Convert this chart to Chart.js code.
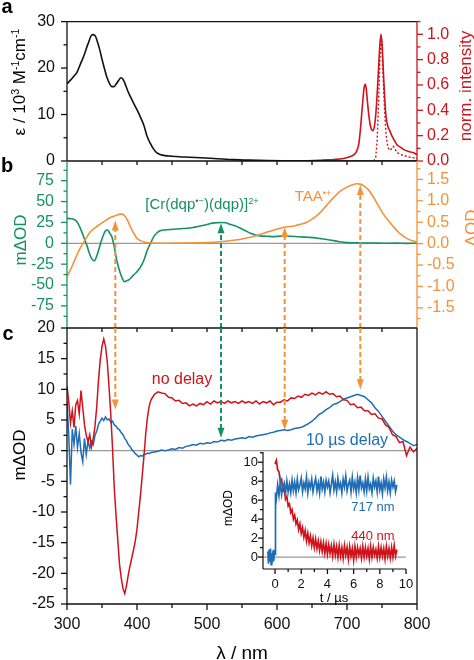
<!DOCTYPE html>
<html>
<head>
<meta charset="utf-8">
<script src="https://cdn.jsdelivr.net/npm/chart.js@4.4.1/dist/chart.umd.min.js"></script>
<style>
  body { margin: 0; background: #fff; }
  #fig { position: relative; width: 474px; height: 660px; overflow: hidden; font-family: "Liberation Sans", Arial, sans-serif; }
  #fig canvas { position: absolute; left: 0; top: 0; }
  .lbl { position: absolute; white-space: nowrap; line-height: 1; transform: translate(-50%, -50%); }
  .rot { transform: translate(-50%, -50%) rotate(-90deg); }
  .lbl sup { font-size: 62%; vertical-align: 0; position: relative; top: -0.55em; }
  .pl { font-weight: bold; font-size: 20px; }
</style>
</head>
<body>
<div id="fig">
  <canvas id="cA" width="474" height="660"></canvas>
  <canvas id="cB" width="474" height="660"></canvas>
  <canvas id="cC" width="474" height="660"></canvas>
  <canvas id="cI" width="474" height="660"></canvas>

  <div class="lbl pl" style="left:7px;top:6px">a</div>
  <div class="lbl pl" style="left:7px;top:165px">b</div>
  <div class="lbl pl" style="left:8px;top:333px">c</div>

  <div class="lbl rot" style="left:19px;top:82px;font-size:17px">ε / 10<sup>3</sup> M<sup>-1</sup>cm<sup>-1</sup></div>
  <div class="lbl rot" style="left:465px;top:86px;font-size:17px;color:#d0121b">norm. intensity</div>
  <div class="lbl rot" style="left:20px;top:240px;font-size:17px;color:#169163">mΔOD</div>
  <div class="lbl rot" style="left:471px;top:228px;font-size:17px;color:#f39239">ΔOD</div>
  <div class="lbl rot" style="left:19px;top:455px;font-size:17px">mΔOD</div>
  <div class="lbl" style="left:242px;top:652px;font-size:19px">λ / nm</div>

  <div class="lbl" style="left:202px;top:204px;font-size:15px;color:#169163">[Cr(dqp<sup>•−</sup>)(dqp)]<sup>2+</sup></div>
  <div class="lbl" style="left:313px;top:196px;font-size:15px;color:#f39239">TAA<sup>•+</sup></div>
  <div class="lbl" style="left:182px;top:379px;font-size:16px;color:#d0121b">no delay</div>
  <div class="lbl" style="left:347px;top:440px;font-size:16px;color:#1f6db5">10 µs delay</div>
  <div class="lbl" style="left:373px;top:506px;font-size:13px;color:#1f6db5">717 nm</div>
  <div class="lbl" style="left:373px;top:535px;font-size:13px;color:#d0121b">440 nm</div>
  <div class="lbl rot" style="left:228px;top:508px;font-size:12px">mΔOD</div>
  <div class="lbl" style="left:334px;top:597px;font-size:13px">t / µs</div>
</div>
<script>
// ---- panel a: absorption (black) and emission (red) ----
const absNm  = [300, 305, 310, 314, 319, 324, 330, 336, 340, 343, 347, 350, 354, 357, 361, 364, 367, 370, 374, 377, 380, 383, 387, 390, 394, 398, 402, 405, 410, 414, 419, 424, 428, 433, 440, 448, 460, 475, 490, 510, 538, 560, 586, 610, 640, 700, 800];
const absEps = [16.6, 17.4, 18.3, 19.0, 20.8, 22.6, 25.2, 27.2, 27.0, 25.9, 23.8, 21.9, 19.6, 18.0, 16.6, 16.0, 16.0, 16.5, 17.4, 17.9, 17.6, 16.6, 15.0, 14.0, 12.8, 11.6, 10.4, 9.4, 7.6, 5.5, 3.8, 2.5, 1.8, 1.4, 1.15, 1.05, 0.92, 0.82, 0.7, 0.55, 0.3, 0.18, 0.08, 0.04, 0.02, 0.0, 0.0];
const emNm  = [640, 652, 665, 681, 695, 705, 710, 714, 717, 719, 721, 723, 724.5, 726, 727.5, 729, 731, 733, 735, 737, 739, 741, 743, 745, 747, 748.6, 750, 752, 754, 756, 758.6, 761, 764, 768, 771, 776, 781, 788, 795, 800];
const emInt = [0, 0.003, 0.008, 0.012, 0.02, 0.035, 0.05, 0.08, 0.14, 0.24, 0.37, 0.5, 0.58, 0.605, 0.57, 0.48, 0.37, 0.29, 0.25, 0.24, 0.27, 0.36, 0.52, 0.72, 0.92, 1.0, 0.93, 0.7, 0.48, 0.34, 0.27, 0.24, 0.2, 0.16, 0.13, 0.11, 0.09, 0.075, 0.065, 0.05];
const dotNm  = [738, 741, 743, 745, 747, 748.6, 750, 752, 754, 756, 758, 760, 762, 764, 766, 768, 771, 775, 780, 790, 800];
const dotInt = [0, 0.03, 0.15, 0.45, 0.8, 0.98, 0.9, 0.62, 0.36, 0.2, 0.12, 0.09, 0.085, 0.1, 0.115, 0.1, 0.07, 0.055, 0.045, 0.03, 0.02];

// ---- panel b: spectroelectrochemistry ----
const greenNm = [300, 305, 310, 314, 318, 321, 325, 329, 332, 335, 339, 343, 348, 352, 355, 358, 361, 364, 367, 371, 375, 379, 382, 385, 388, 392, 395, 399, 402, 406, 410, 414, 417, 421, 424, 428, 433, 440, 452, 462, 471, 480, 490, 500, 510, 520, 527, 533, 540, 548, 555, 562, 569, 576, 585, 595, 605, 619, 630, 643, 652, 662, 671, 681, 690, 700, 710, 719, 735, 752, 770, 785, 800];
const greenV  = [30, 29.5, 28.5, 26, 20, 14, 5, -4, -12, -18, -21, -14, 0, 10, 15, 16, 12, 8, -2, -20, -33, -42, -46, -45, -44, -41, -38, -35, -32, -27, -20, -10, -4, 3, 8, 12, 15, 16, 16.8, 17.5, 18, 19, 20.7, 22.5, 24.5, 25, 24.5, 22.7, 21, 18, 15, 12, 10, 8.8, 8.5, 8, 8.6, 8.4, 7.8, 7.2, 6.8, 5.6, 4.5, 3.2, 1.8, 0.8, 0.6, 0.4, 0.3, 0.0, 0.2, -0.1, 0.0];
const orNm = [300, 307, 314, 319, 324, 329, 333, 340, 348, 355, 362, 370, 376, 379, 383, 386, 390, 393, 397, 400, 405, 410, 417, 424, 440, 467, 490, 514, 538, 550, 562, 575, 586, 596, 605, 612, 619, 626, 633, 641, 648, 655, 662, 671, 681, 690, 700, 707, 714, 719, 724, 731, 738, 745, 752, 760, 767, 774, 781, 788, 795, 800];
const orV  = [-0.77, -0.54, -0.27, -0.1, 0.04, 0.17, 0.27, 0.37, 0.46, 0.54, 0.61, 0.66, 0.69, 0.69, 0.64, 0.56, 0.42, 0.31, 0.2, 0.12, 0.07, 0.04, 0.02, 0.015, 0.01, 0.015, 0.02, 0.04, 0.08, 0.11, 0.15, 0.21, 0.27, 0.32, 0.36, 0.39, 0.4, 0.42, 0.45, 0.49, 0.55, 0.63, 0.73, 0.9, 1.08, 1.22, 1.32, 1.37, 1.4, 1.39, 1.35, 1.25, 1.08, 0.88, 0.69, 0.52, 0.38, 0.26, 0.17, 0.1, 0.06, 0.04];

// ---- panel c: transient absorption ----
const cNm = [300, 302.5, 305, 307.5, 310, 312.5, 315, 317.5, 320, 322.5, 325, 327.5, 330, 332.5, 335, 337.5, 340, 342.5, 345, 347.5, 350, 352.5, 355, 357.5, 360, 362.5, 365, 367.5, 370, 372.5, 375, 377.5, 380, 382.5, 385, 387.5, 390, 392.5, 395, 397.5, 400, 402.5, 405, 407.5, 410, 412.5, 415, 417.5, 420,
  425, 430, 435, 440, 445, 450, 455, 460, 465, 470, 475, 480, 485, 490, 495, 500, 505, 510, 515, 520, 525, 530, 535, 540, 545, 550, 555, 560, 565, 570, 575, 580, 585, 590, 595, 600, 605, 610, 615, 620, 625, 630, 635, 640, 645, 650, 655, 660, 665, 670, 675, 680, 685, 690, 695, 700, 705, 710, 715, 720, 725, 730, 735, 740, 745, 750, 755, 760, 765, 770, 775, 780, 785, 790, 795, 800];
const noDelay = [10.5, 8.0, 4.5, 6.5, 3.8, 7.5, 8.2, 6.0, 9.8, 7.0, 4.2, 2.5, 1.5, 2.6, 0.6, 2.0, 4.0, 7.2, 11.5, 14.8, 17.0, 18.2, 17.0, 14.5, 10.5, 6.0, 0.5, -6.0, -10.5, -14.5, -18.5, -20.8, -22.5, -23.3, -22.0, -20.3, -18.8, -17.5, -16.2, -14.8, -12.8, -10.0, -7.2, -4.0, -0.8, 2.8, 5.5, 7.3, 8.3,
  9.2, 9.6, 9.4, 9.3, 8.7, 8.6, 8.1, 8.2, 7.7, 7.8, 7.3, 7.6, 7.3, 7.7, 7.5, 8.0, 7.6, 8.1, 7.8, 8.0, 7.7, 8.1, 7.8, 8.0, 7.7, 8.1, 7.8, 8.0, 7.7, 8.1, 7.6, 8.0, 7.8, 8.1, 7.5, 7.9, 7.9, 8.3, 8.1, 8.6, 8.5, 8.9, 8.7, 9.2, 9.0, 9.4, 9.1, 9.5, 9.2, 9.6, 9.2, 9.3, 8.8, 8.9, 8.3, 8.2, 7.5, 7.6, 7.0, 7.1, 6.5, 6.5, 5.9, 6.0, 5.3, 5.2, 4.2, 3.8, 2.6, 2.3, 1.3, 1.5, -0.8, 0.6, -0.2, 0.4];
const delay10 = [8.0, 2.5, -5.5, 3.5, 1.0, 4.0, 0.5, 2.8, -0.3, -1.8, 2.0, -0.6, 1.6, 0.4, 1.5, 1.0, 2.5, 3.2, 4.3, 4.8, 5.3, 4.9, 5.5, 5.0, 5.2, 4.6, 4.8, 4.2, 4.0, 3.6, 3.4, 2.9, 2.6, 2.0, 1.6, 1.0, 0.7, 0.2, -0.1, -0.5, -0.7, -1.0, -0.8, -0.9, -0.6, -0.6, -0.4, -0.5, -0.3,
  -0.2, -0.1, 0.1, 0.0, 0.1, 0.3, 0.2, 0.5, 0.4, 0.7, 0.8, 1.0, 0.9, 1.2, 1.1, 1.3, 1.2, 1.5, 1.4, 1.7, 1.6, 1.8, 1.7, 1.9, 2.0, 2.1, 2.0, 2.3, 2.2, 2.4, 2.5, 2.6, 2.7, 2.9, 3.0, 3.2, 3.3, 3.4, 3.3, 3.4, 3.6, 3.7, 3.8, 4.1, 4.4, 4.8, 5.3, 5.9, 6.2, 6.7, 7.0, 7.5, 7.7, 8.0, 8.4, 8.6, 8.8, 9.0, 9.2, 9.0, 8.8, 8.3, 7.8, 7.0, 6.4, 5.6, 4.8, 4.0, 3.2, 2.6, 2.2, 1.8, 1.5, 1.2, 0.8, 1.0];

// ---- inset: kinetics ----
const tPre = [-0.55, -0.5, -0.45, -0.4, -0.35, -0.3, -0.25, -0.2, -0.15, -0.1, -0.05, 0, 0.02, 0.05];
const blPre = [0.6, -0.7, 0.8, -0.5, 0.9, -0.8, 0.4, -0.6, 0.7, -0.4, 0.5, 0.3, 4.5, 6.8];
const tFine = [0, 0.1, 0.2, 0.3, 0.4, 0.5, 0.6, 0.7, 0.8, 0.9, 1.0, 1.1, 1.2, 1.3, 1.4, 1.5, 1.6, 1.7, 1.8, 1.9, 2.0, 2.1, 2.2, 2.3, 2.4, 2.5, 2.6, 2.7, 2.8, 2.9, 3.0, 3.1, 3.2, 3.3, 3.4, 3.5, 3.6, 3.7, 3.8, 3.9, 4.0, 4.1, 4.2, 4.3, 4.4, 4.5, 4.6, 4.7, 4.8, 4.9, 5.0, 5.1, 5.2, 5.3, 5.4, 5.5, 5.6, 5.7, 5.8, 5.9, 6.0, 6.1, 6.2, 6.3, 6.4, 6.5, 6.6, 6.7, 6.8, 6.9, 7.0, 7.1, 7.2, 7.3, 7.4, 7.5, 7.6, 7.7, 7.8, 7.9, 8.0, 8.1, 8.2, 8.3, 8.4, 8.5, 8.6, 8.7, 8.8, 8.9, 9.0, 9.1, 9.2, 9.3];
const kin717 = [6.2, 7.6, 6.5, 7.9, 6.6, 7.4, 7.8, 6.7, 8.0, 6.9, 7.7, 6.8, 8.1, 7.0, 7.9, 6.8, 8.2, 7.1, 7.6, 8.3, 6.9, 7.8, 7.2, 8.4, 6.8, 7.9, 7.3, 8.2, 6.9, 7.7, 8.3, 7.0, 7.8, 6.8, 8.5, 7.2, 7.9, 6.9, 8.1, 7.4, 8.0, 6.8, 7.7, 8.6, 7.1, 7.9, 6.9, 8.3, 7.3, 7.8, 6.8, 8.2, 7.4, 8.5, 7.0, 7.7, 8.1, 6.9, 8.4, 7.2, 7.9, 6.8, 8.3, 7.1, 8.6, 7.3, 7.8, 6.9, 8.2, 7.0, 8.4, 7.2, 7.7, 6.8, 8.3, 7.4, 8.0, 6.9, 8.5, 7.1, 7.8, 6.7, 8.2, 7.3, 8.4, 7.0, 7.9, 6.8, 8.1, 7.4, 8.0, 6.9, 7.6];
const kin440 = [9.8, 10.2, 9.2, 9.0, 8.0, 8.2, 7.0, 7.2, 6.1, 6.4, 5.4, 5.6, 4.7, 5.0, 4.0, 4.4, 3.5, 3.9, 2.9, 3.5, 2.5, 3.1, 2.1, 2.8, 1.7, 2.5, 1.5, 2.2, 1.2, 2.0, 1.0, 1.9, 0.9, 1.7, 0.7, 1.6, 0.6, 1.5, 0.4, 1.4, 0.3, 1.3, 0.4, 1.2, 0.1, 1.3, 0.2, 1.1, 0.0, 1.2, 0.1, 1.0, -0.1, 1.2, 0.2, 1.0, -0.2, 1.1, 0.1, 0.9, -0.3, 1.1, 0.0, 1.0, 0.2, 0.9, -0.1, 1.1, 0.0, 1.0, 0.1, 0.9, -0.2, 1.1, 0.0, 1.0, 0.2, 0.8, -0.1, 1.1, 0.0, 1.0, 0.1, 0.9, -0.2, 1.1, 0.1, 0.9, -0.1, 1.0, 0.0, 1.2, 0.1, 0.8];

// ---- ticks ----
const nmMajor = [300, 400, 500, 600, 700, 800];
const nmMinor = [350, 450, 550, 650, 750];
const nmInner = [350, 400, 450, 500, 550, 600, 650, 700, 750];
const aLeftTicks = [0, 10, 20, 30], aLeftMinor = [5, 15, 25];
const aRightTicks = [0, 0.2, 0.4, 0.6, 0.8, 1.0], aRightMinor = [0.1, 0.3, 0.5, 0.7, 0.9, 1.1];
const bLeftTicks = [-75, -50, -25, 0, 25, 50, 75], bLeftMinor = [-87.5, -62.5, -37.5, -12.5, 12.5, 37.5, 62.5, 87.5];
const bRightTicks = [-1.5, -1.0, -0.5, 0.0, 0.5, 1.0, 1.5], bRightMinor = [-1.75, -1.25, -0.75, -0.25, 0.25, 0.75, 1.25, 1.75];
const cTicks = [-25, -20, -15, -10, -5, 0, 5, 10, 15, 20], cMinor = [-22.5, -17.5, -12.5, -7.5, -2.5, 2.5, 7.5, 12.5, 17.5];
const inTicks = [0, 2, 4, 6, 8, 10], inMinor = [1, 3, 5, 7, 9];
const inYMinor = [1, 3, 5, 7, 9, 11];

// ---- dashed arrows linking b and c ----
const arrowNm = [369, 520, 611, 719];
const arrowTipB = [0.54, 24, 0.385, 1.37];
const arrowTipC = [6.7, 2.1, 3.4, 10.0];
const arrowAxisB = ['y2', 'y', 'y2', 'y2'];

const BLACK = '#111', RED = '#d0121b', GREEN = '#169163', ORANGE = '#f39239', BLUE = '#1f6db5', GRAY = '#999';
const arrowColor = [ORANGE, GREEN, ORANGE, ORANGE];

Chart.defaults.font.family = '"Liberation Sans", Arial, sans-serif';
Chart.defaults.font.size = 16;
Chart.defaults.color = BLACK;

const pts = (xs, ys) => xs.map((x, i) => ({ x: x, y: ys[i] }));

function yScale(pos, min, max, ticks, color, width, pad, fmt, size) {
    return {
        type: 'linear', position: pos, min: min, max: max,
        grid: { display: false, drawTicks: false }, border: { display: false },
        ticks: { color: color, padding: pad, autoSkip: false, font: { size: size || 16 }, callback: fmt || (v => v) },
        afterBuildTicks: s => { s.ticks = ticks.map(v => ({ value: v })); },
        afterFit: s => { s.width = width; }
    };
}
function xHidden() {
    return { type: 'linear', min: 300, max: 800, display: false };
}

function line(ctx, x1, y1, x2, y2, color, w) {
    ctx.save();
    ctx.strokeStyle = color; ctx.lineWidth = w || 1.3;
    ctx.beginPath(); ctx.moveTo(x1, y1); ctx.lineTo(x2, y2); ctx.stroke();
    ctx.restore();
}
function yMarks(ctx, scale, x, vals, len, color) {
    vals.forEach(v => { const y = scale.getPixelForValue(v); line(ctx, x, y, x + len, y, color); });
}
function xMarks(ctx, scale, y, vals, len, color) {
    vals.forEach(v => { const x = scale.getPixelForValue(v); line(ctx, x, y, x, y + len, color); });
}
function zeroLine(ctx, area, scale) {
    const y = scale.getPixelForValue(0);
    line(ctx, area.left, y, area.right, y, GRAY, 1.2);
}
function dashArrow(ctx, x, y0, y1, color) {
    const dir = Math.sign(y1 - y0);
    ctx.save();
    ctx.strokeStyle = color; ctx.fillStyle = color; ctx.lineWidth = 2;
    ctx.setLineDash([5, 3]);
    ctx.beginPath(); ctx.moveTo(x, y0); ctx.lineTo(x, y1 - dir * 8); ctx.stroke();
    ctx.setLineDash([]);
    ctx.beginPath();
    ctx.moveTo(x - 3.5, y1 - dir * 10); ctx.lineTo(x + 3.5, y1 - dir * 10); ctx.lineTo(x, y1);
    ctx.closePath(); ctx.fill();
    ctx.restore();
}

function makeChart(id, datasets, scales, padding, before, after) {
    return new Chart(document.getElementById(id), {
        type: 'line',
        data: { datasets: datasets },
        options: {
            responsive: false, animation: false, devicePixelRatio: 1,
            layout: { padding: padding },
            elements: { point: { radius: 0 }, line: { borderWidth: 1.6 } },
            plugins: { legend: { display: false }, tooltip: { enabled: false } },
            scales: scales
        },
        plugins: [{
            id: 'frame_' + id,
            beforeDatasetsDraw: c => { if (before) before(c.ctx, c.chartArea, c.scales); },
            afterDraw: c => { if (after) after(c.ctx, c.chartArea, c.scales); }
        }]
    });
}

// panel a
makeChart('cA', [
    { data: pts(absNm, absEps), borderColor: BLACK, yAxisID: 'y', cubicInterpolationMode: 'monotone' },
    { data: pts(dotNm, dotInt), borderColor: RED, yAxisID: 'y2', borderDash: [2, 2], borderWidth: 1.4 },
    { data: pts(emNm, emInt), borderColor: RED, yAxisID: 'y2', cubicInterpolationMode: 'monotone' }
], {
    x: xHidden(),
    y: yScale('left', 0, 30, aLeftTicks, BLACK, 67, 12),
    y2: yScale('right', 0, 1.1, aRightTicks, RED, 57, 10, v => v.toFixed(1))
}, { left: 0, right: 0, top: 9, bottom: 499 }, null, (ctx, a, s) => {
    line(ctx, a.left, a.top, a.right, a.top, BLACK);
    line(ctx, a.left, a.top, a.left, a.bottom, BLACK);
    line(ctx, a.right, a.top, a.right, a.bottom, RED);
    yMarks(ctx, s.y, a.left, aLeftTicks, -6, BLACK);
    yMarks(ctx, s.y, a.left, aLeftMinor, -3.5, BLACK);
    yMarks(ctx, s.y2, a.right, aRightTicks, 6, RED);
    yMarks(ctx, s.y2, a.right, aRightMinor, 3.5, RED);
});

// panel b
makeChart('cB', [
    { data: pts(orNm, orV), borderColor: ORANGE, yAxisID: 'y2', cubicInterpolationMode: 'monotone' },
    { data: pts(greenNm, greenV), borderColor: GREEN, yAxisID: 'y', cubicInterpolationMode: 'monotone' }
], {
    x: xHidden(),
    y: yScale('left', -101.5, 98.6, bLeftTicks, GREEN, 67, 13),
    y2: yScale('right', -1.97, 1.93, bRightTicks, ORANGE, 57, 10, v => v.toFixed(1))
}, { left: 0, right: 0, top: 161, bottom: 332 }, (ctx, a, s) => {
    zeroLine(ctx, a, s.y);
}, (ctx, a, s) => {
    line(ctx, a.left, a.top, a.right, a.top, BLACK);
    xMarks(ctx, s.x, a.top, nmInner, 4, BLACK);
    line(ctx, a.left, a.top, a.left, a.bottom, GREEN);
    line(ctx, a.right, a.top, a.right, a.bottom, ORANGE);
    yMarks(ctx, s.y, a.left, bLeftTicks, -6, GREEN);
    yMarks(ctx, s.y, a.left, bLeftMinor, -3.5, GREEN);
    yMarks(ctx, s.y2, a.right, bRightTicks, 6, ORANGE);
    yMarks(ctx, s.y2, a.right, bRightMinor, 3.5, ORANGE);
    arrowNm.forEach((nm, i) => {
        dashArrow(ctx, s.x.getPixelForValue(nm), a.bottom, s[arrowAxisB[i]].getPixelForValue(arrowTipB[i]), arrowColor[i]);
    });
});

// panel c
makeChart('cC', [
    { data: pts(cNm, noDelay), borderColor: RED, yAxisID: 'y', borderWidth: 1.5 },
    { data: pts(cNm, delay10), borderColor: BLUE, yAxisID: 'y', borderWidth: 1.5 }
], {
    x: {
        type: 'linear', min: 300, max: 800,
        grid: { display: false, drawTicks: false }, border: { display: false },
        ticks: { padding: 11, autoSkip: false, maxRotation: 0 },
        afterBuildTicks: s => { s.ticks = nmMajor.map(v => ({ value: v })); },
        afterFit: s => { s.height = 30; }
    },
    y: yScale('left', -25, 20, cTicks, BLACK, 67, 12)
}, { left: 0, right: 57, top: 328, bottom: 26 }, (ctx, a, s) => {
    zeroLine(ctx, a, s.y);
}, (ctx, a, s) => {
    line(ctx, a.left, a.top, a.right, a.top, BLACK);
    line(ctx, a.left, a.bottom, a.right, a.bottom, BLACK);
    line(ctx, a.left, a.top, a.left, a.bottom, BLACK);
    line(ctx, a.right, a.top, a.right, a.bottom, BLACK);
    xMarks(ctx, s.x, a.top, nmInner, 4, BLACK);
    xMarks(ctx, s.x, a.bottom, nmMajor, 6, BLACK);
    xMarks(ctx, s.x, a.bottom, nmMinor, 4, BLACK);
    yMarks(ctx, s.y, a.left, cTicks, -6, BLACK);
    yMarks(ctx, s.y, a.left, cMinor, -3.5, BLACK);
    arrowNm.forEach((nm, i) => {
        dashArrow(ctx, s.x.getPixelForValue(nm), a.top, s.y.getPixelForValue(arrowTipC[i]), arrowColor[i]);
    });
});

// inset
makeChart('cI', [
    { data: pts(tPre, blPre).concat(pts(tFine.slice(1), kin717)), borderColor: BLUE, yAxisID: 'y', borderWidth: 1.7 },
    { data: pts(tFine, kin440), borderColor: RED, yAxisID: 'y', borderWidth: 1.7 }
], {
    x: {
        type: 'linear', min: -0.92, max: 10,
        grid: { display: false, drawTicks: false }, border: { display: false },
        ticks: { padding: 8, autoSkip: false, maxRotation: 0, font: { size: 13 } },
        afterBuildTicks: s => { s.ticks = inTicks.map(v => ({ value: v })); },
        afterFit: s => { s.height = 30; }
    },
    y: yScale('left', -1.26, 11.08, inTicks, BLACK, 263, 5, null, 13)
}, { left: 0, right: 68, top: 452, bottom: 61 }, (ctx, a, s) => {
    zeroLine(ctx, a, s.y);
}, (ctx, a, s) => {
    line(ctx, a.left, a.top, a.left, a.bottom, BLACK, 1.2);
    line(ctx, a.left, a.bottom, a.right, a.bottom, BLACK, 1.2);
    xMarks(ctx, s.x, a.bottom, inTicks, 5, BLACK);
    xMarks(ctx, s.x, a.bottom, inMinor, 3, BLACK);
    yMarks(ctx, s.y, a.left, inTicks, -5, BLACK);
    yMarks(ctx, s.y, a.left, inYMinor, -3, BLACK);
});
</script>
</body>
</html>
